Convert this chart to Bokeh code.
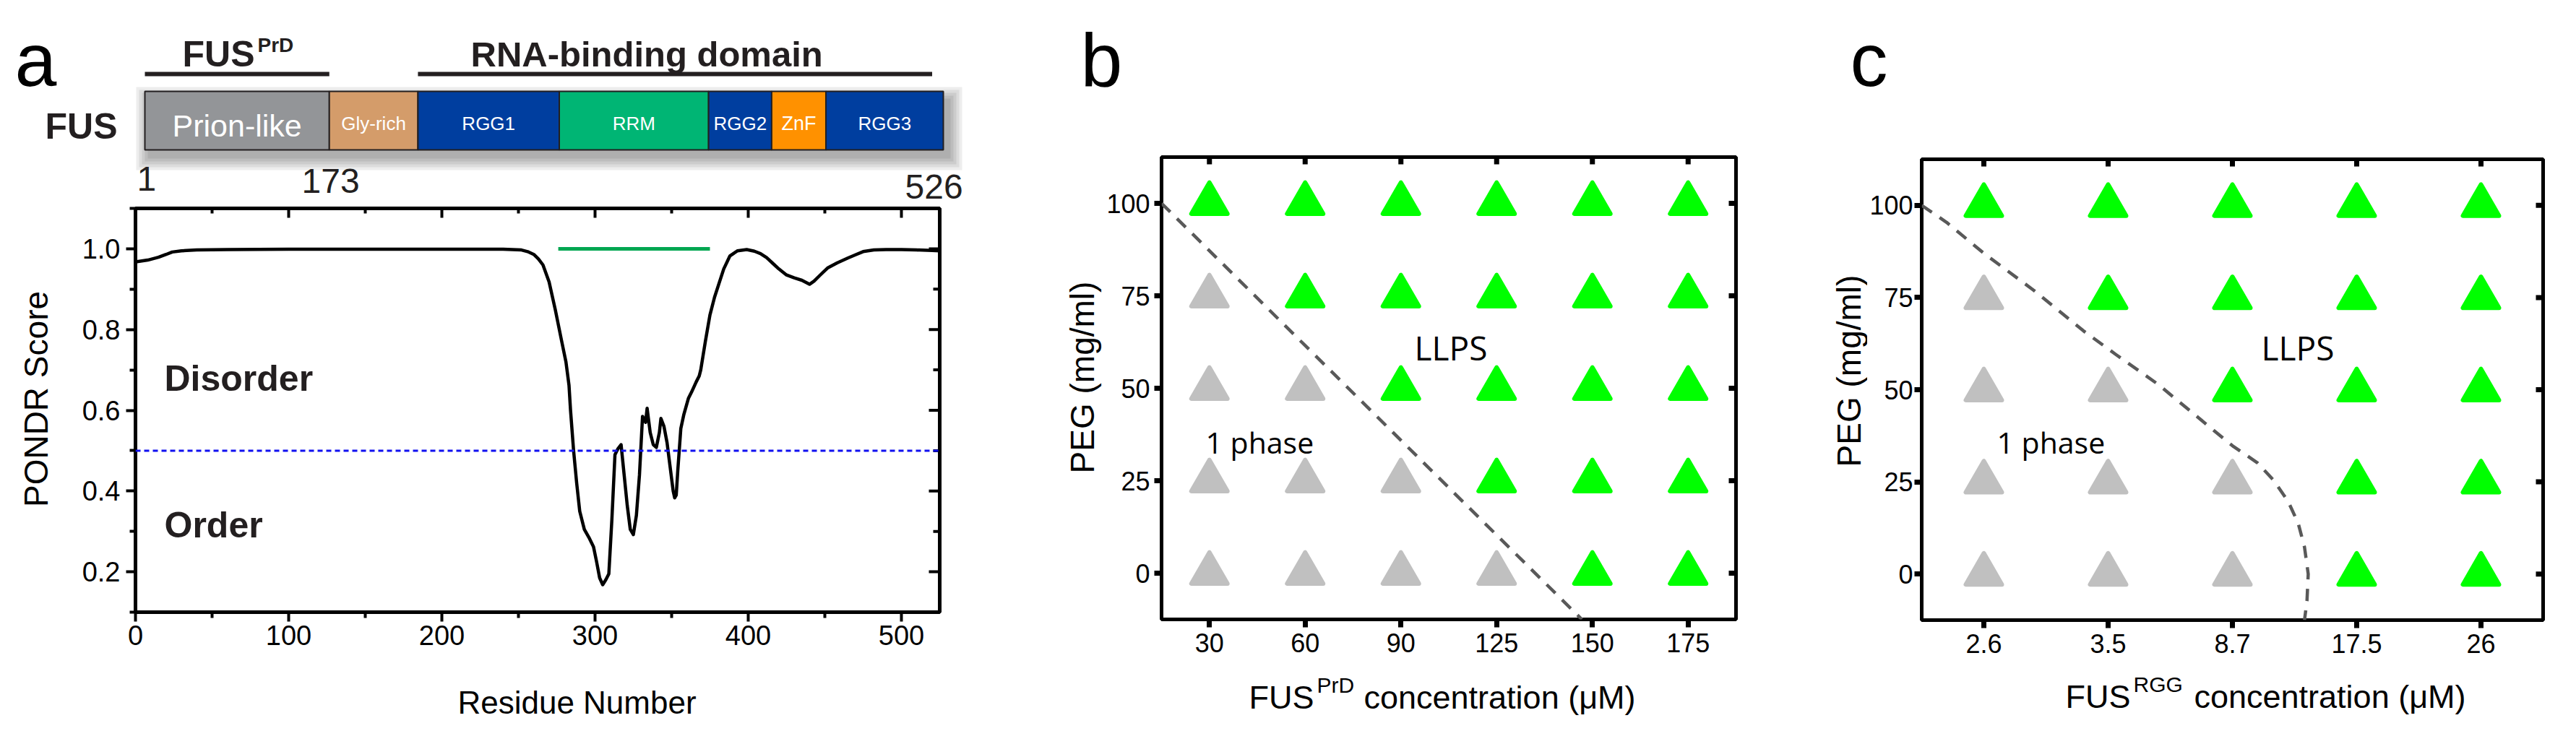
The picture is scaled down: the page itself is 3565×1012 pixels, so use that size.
from math import pi
from bokeh.plotting import figure
from bokeh.models import Range1d, FixedTicker, Label, ColumnDataSource, Span, NumeralTickFormatter
from bokeh.layouts import row, column
from bokeh.embed import file_html
from bokeh.resources import INLINE
from bokeh.core.properties import value

# ---------------- data ----------------
# panel a : FUS domain schematic (schematic units along the bar, 0..100)
domain_names = ["Prion-like", "Gly-rich", "RGG1", "RRM", "RGG2", "ZnF", "RGG3"]
domain_edges = [0.0, 23.1, 34.2, 51.9, 70.6, 78.5, 85.3, 100.0]
domain_colors = ["#939598", "#D49C6A", "#003E9F", "#00B574", "#003E9F", "#FF9100", "#003E9F"]
region_spans = [(0.0, 23.1), (34.2, 98.6)]
position_labels = [1, 173, 526]

# panel a : PONDR score
residue = [1, 8, 15, 20, 24, 30, 40, 60, 100, 150, 200, 240, 252, 256, 260, 263, 266, 270,
           274, 278, 281, 283, 284, 286, 288, 290, 293, 296, 299, 301, 303, 305, 307, 309,
           311, 313, 315, 317, 319, 321, 323, 325, 327, 329, 331, 333, 334, 336, 338, 340,
           342, 343, 345, 347, 349, 351, 352, 353, 354, 356, 358, 361, 363, 366, 368, 369,
           372, 375, 378, 381, 384, 388, 393, 399, 404, 408, 412, 416, 420, 425, 430, 435,
           440, 443, 447, 452, 458, 465, 470, 475, 482, 490, 500, 510, 520, 525]
pondr = [0.968, 0.972, 0.979, 0.986, 0.992, 0.995, 0.997, 0.998, 0.999, 0.999, 0.999, 0.999,
         0.997, 0.993, 0.986, 0.975, 0.960, 0.918, 0.850, 0.775, 0.720, 0.662, 0.600, 0.500,
         0.420, 0.350, 0.305, 0.285, 0.262, 0.225, 0.185, 0.168, 0.180, 0.195, 0.330, 0.490,
         0.505, 0.515, 0.440, 0.365, 0.305, 0.292, 0.340, 0.440, 0.585, 0.570, 0.605, 0.545,
         0.515, 0.508, 0.545, 0.580, 0.560, 0.520, 0.460, 0.400, 0.383, 0.390, 0.450, 0.555,
         0.590, 0.630, 0.645, 0.670, 0.685, 0.700, 0.770, 0.836, 0.880, 0.915, 0.950, 0.982,
         0.995, 0.998, 0.994, 0.988, 0.978, 0.964, 0.950, 0.935, 0.928, 0.922, 0.912, 0.920,
         0.935, 0.953, 0.965, 0.977, 0.985, 0.993, 0.997, 0.998, 0.998, 0.997, 0.996, 0.995]
threshold = 0.5
rrm_span = (276, 375)
rrm_level = 1.0

# panels b, c : phase diagrams (rows = PEG levels, 1 = LLPS, 0 = one phase)
peg_levels = [0, 25, 50, 75, 100]
fus_prd_conc = ["30", "60", "90", "125", "150", "175"]
phase_b = [
    [0, 0, 0, 0, 1, 1],
    [0, 0, 0, 1, 1, 1],
    [0, 0, 1, 1, 1, 1],
    [0, 1, 1, 1, 1, 1],
    [1, 1, 1, 1, 1, 1],
]
boundary_b_x = [0.5, 4.89]
boundary_b_y = [100.0, -12.5]

fus_rgg_conc = ["2.6", "3.5", "8.7", "17.5", "26"]
phase_c = [
    [0, 0, 0, 1, 1],
    [0, 0, 0, 1, 1],
    [0, 0, 1, 1, 1],
    [0, 1, 1, 1, 1],
    [1, 1, 1, 1, 1],
]
boundary_c_x = [0.5, 0.7, 1.0, 1.4, 1.8, 2.06, 2.4, 2.73, 3.0, 3.2, 3.33, 3.45, 3.53, 3.58, 3.61, 3.60, 3.58]
boundary_c_y = [100.0, 95.4, 87.0, 77.0, 66.0, 59.6, 51.5, 42.3, 34.8, 30.2, 25.5, 19.6, 13.7, 7.3, 0.0, -7.3, -12.5]

# ---------------- helpers ----------------
FONT = "Liberation Sans"
GREEN = "#00FF00"
GREY = "#C0C0C0"
INK = "#231F20"
K = 0.21  # baseline correction (fraction of font size)


def plabel(p, fx, fy, px, py, text, size, bold=False, font=FONT, align="left", angle=0.0, color="black"):
    """Place a text whose baseline should sit at page pixel (px, py)."""
    if angle:
        px = px - K * size
    else:
        py = py - K * size
    p.add_layout(Label(x=fx(px), y=fy(py), text=text, text_font=font, text_font_size=f"{size}px",
                       text_font_style="bold" if bold else "normal", text_align=align,
                       text_baseline="alphabetic", angle=angle, text_color=color))


def clean(p):
    p.grid.visible = False
    p.background_fill_color = "white"
    p.border_fill_color = "white"


def ident(v):
    return v


def neg(v):
    return -v


def tfig(w, h, x0, y0):
    """A blank strip used to hold texts; its coordinates are page pixels (y negated)."""
    f = figure(width=w, height=h, x_range=Range1d(x0, x0 + w), y_range=Range1d(-(y0 + h), -y0),
               toolbar_location=None, output_backend="svg", min_border=0, frame_align=False,
               x_axis_location=None, y_axis_location=None, outline_line_color=None,
               title_location=None)
    clean(f)
    return f


def put(f, px, py, text, size, **kw):
    plabel(f, ident, neg, px, py, text, size, **kw)


def inner_ticks(p, top_xs, top_y, top_len, right_x, right_ys, right_len, width):
    """Inward ticks on the top and right edges (lengths given in data units)."""
    if top_xs:
        p.segment(x0=top_xs, x1=top_xs, y0=top_y, y1=[top_y - l for l in top_len],
                  line_width=width, line_color="black")
    if right_ys:
        p.segment(x0=right_x, x1=[right_x - l for l in right_len], y0=right_ys, y1=right_ys,
                  line_width=width, line_color="black")


# ---------------- panel a : domain schematic ----------------
PX = 11.05  # screen px per schematic unit
X0 = -200 / PX
dom = figure(width=1420, height=284, x_range=Range1d(X0, X0 + 1420 / PX), y_range=Range1d(-292, -8),
             toolbar_location=None, output_backend="svg", min_border=0, frame_align=False,
             x_axis_location=None, y_axis_location=None, outline_line_color=None,
             title_location=None)
clean(dom)


def dx(px):
    return (px - 208) / PX


# drop shadow
for g in [16, 12, 8, 4, 0]:
    dom.quad(left=domain_edges[0] + (4 - g) / PX, right=domain_edges[-1] + (10 + g) / PX,
             top=-(144 - g), bottom=-(227 + g), fill_color="black", fill_alpha=0.07, line_color=None)

dom.quad(left=domain_edges[:-1], right=domain_edges[1:], top=-134, bottom=-215,
         fill_color=domain_colors, line_color=INK, line_width=2)

centers = [(a + b) / 2 for a, b in zip(domain_edges[:-1], domain_edges[1:])]
label_sizes = [43, 26, 26, 26, 26, 27, 26]
label_base = [191, 184, 184, 184, 184, 184, 184]
dsrc = ColumnDataSource(dict(x=centers, y=[-(b - K * s) for b, s in zip(label_base, label_sizes)],
                             text=domain_names, fs=[f"{s}px" for s in label_sizes]))
dom.text(x="x", y="y", text="text", source=dsrc, text_font=value(FONT), text_font_size="fs",
         text_color="white", text_align="center", text_baseline="alphabetic")

dom.segment(x0=[s for s, e in region_spans], x1=[e for s, e in region_spans], y0=-110, y1=-110,
            line_width=6, line_color=INK)

plabel(dom, dx, neg, 28, 112, "a", 104)
plabel(dom, dx, neg, 70, 193, "FUS", 50, bold=True, color=INK)
plabel(dom, dx, neg, 260, 93, "FUS", 50, bold=True, color=INK)
plabel(dom, dx, neg, 364, 76, "PrD", 28, bold=True, color=INK)
plabel(dom, dx, neg, 659, 93, "RNA-binding domain", 49, bold=True, color=INK)
for txt, px, py in zip(position_labels, [197, 425, 1260], [265, 268, 276]):
    plabel(dom, dx, neg, px, py, str(txt), 48, color=INK)

# ---------------- panel a : PONDR plot ----------------
pa = figure(width=1328, height=635, x_range=Range1d(0, 525), y_range=Range1d(0.1, 1.1),
            toolbar_location=None, output_backend="svg", frame_align=False,
            min_border_left=95, min_border_right=120, min_border_top=4, min_border_bottom=72)
clean(pa)
pa.outline_line_color = "black"
pa.outline_line_width = 5

pa.xaxis.ticker = FixedTicker(ticks=[0, 100, 200, 300, 400, 500], minor_ticks=[50, 150, 250, 350, 450])
pa.yaxis.ticker = FixedTicker(ticks=[0.2, 0.4, 0.6, 0.8, 1.0], minor_ticks=[0.1, 0.3, 0.5, 0.7, 0.9, 1.1])
pa.yaxis.formatter = NumeralTickFormatter(format="0.0")
for ax in (pa.xaxis[0], pa.yaxis[0]):
    ax.axis_line_color = None
    ax.major_tick_out = 13
    ax.major_tick_in = 0
    ax.minor_tick_out = 8
    ax.minor_tick_in = 0
    ax.major_tick_line_width = 4
    ax.minor_tick_line_width = 4
    ax.major_tick_line_color = "black"
    ax.minor_tick_line_color = "black"
    ax.major_label_text_font = FONT
    ax.major_label_text_font_size = "38px"
    ax.major_label_text_color = "black"
pa.xaxis.major_label_standoff = 5
pa.yaxis.major_label_standoff = 8

A_XPX = 1113 / 525   # screen px per residue
A_YPX = 559 / 1.0    # screen px per score unit
top_major = [100, 200, 300, 400, 500]
top_minor = [50, 150, 250, 350, 450]
right_major = [0.2, 0.4, 0.6, 0.8, 1.0]
right_minor = [0.3, 0.5, 0.7, 0.9]
inner_ticks(pa, top_major + top_minor, 1.1, [13 / A_YPX] * 5 + [7 / A_YPX] * 5,
            525, right_major + right_minor, [15 / A_XPX] * 5 + [9 / A_XPX] * 4, 4)

pa.add_layout(Span(location=threshold, dimension="width", line_color="#1010F0", line_width=3, line_dash="7 5"))
pa.segment(x0=rrm_span[0], x1=rrm_span[1], y0=rrm_level, y1=rrm_level, line_width=5, line_color="#00A651")
pa.line(residue, pondr, line_width=4.5, line_color="black", line_join="round")


def ax_(px):
    return (px - 195) / A_XPX


def ay_(py):
    return 1.0 - (py - 352) / A_YPX


plabel(pa, ax_, ay_, 235, 542, "Disorder", 50, bold=True, color=INK)
plabel(pa, ax_, ay_, 235, 745, "Order", 50, bold=True, color=INK)

ya = tfig(92, 635, 8, 292)
put(ya, 67, 560, "PONDR Score", 46, align="center", angle=pi / 2)
xa = tfig(1420, 77, 8, 927)
put(xa, 806, 989, "Residue Number", 44, align="center")

panel_a = column(dom, row(ya, pa), xa)


# ---------------- panels b, c ----------------
def phase_panel(width, mbl, mbt, mbb, cats, phase, bx, by, ystand, xstand, xpx, ypx):
    n = len(cats)
    p = figure(width=width, height=719, x_range=Range1d(0.5, n + 0.5), y_range=Range1d(-12.5, 112.5),
               toolbar_location=None, output_backend="svg", frame_align=False,
               min_border_left=mbl, min_border_right=30, min_border_top=mbt, min_border_bottom=mbb)
    clean(p)
    p.outline_line_color = "black"
    p.outline_line_width = 5
    p.xaxis.ticker = FixedTicker(ticks=list(range(1, n + 1)))
    p.xaxis.major_label_overrides = {i + 1: c for i, c in enumerate(cats)}
    p.yaxis.ticker = FixedTicker(ticks=peg_levels)
    for ax in (p.xaxis[0], p.yaxis[0]):
        ax.axis_line_color = None
        ax.major_tick_in = 0
        ax.minor_tick_line_color = None
        ax.major_tick_line_width = 7
        ax.major_tick_line_color = "black"
        ax.major_label_text_font = FONT
        ax.major_label_text_font_size = "36px"
        ax.major_label_text_color = "black"
    p.yaxis.major_tick_out = 10
    p.xaxis.major_tick_out = 11
    p.yaxis.major_label_standoff = ystand
    p.xaxis.major_label_standoff = xstand
    inner_ticks(p, list(range(1, n + 1)), 112.5, [10 / ypx] * n,
                n + 0.5, peg_levels, [10 / xpx] * len(peg_levels), 7)
    xs, ys, cols = [], [], []
    for j, peg in enumerate(peg_levels):
        for i in range(n):
            xs.append(i + 1)
            ys.append(peg)
            cols.append(GREEN if phase[j][i] else GREY)
    p.line(bx, by, line_dash="17 13", line_width=4.5, line_color="#595959")
    p.scatter(xs, ys, marker="triangle", size=50, fill_color=cols, line_color=cols,
              line_width=6, line_join="round")
    return p


# panel b  (page: frame x 1615..2410, y 225..865)
pb = phase_panel(907, 82, 17, 62, fus_prd_conc, phase_b, boundary_b_x, boundary_b_y, 6, 8, 132.5, 5.12)


def bx_(px):
    return 0.5 + (px - 1615) / 132.5


def by_(py):
    return 112.5 - (py - 225) / 5.12


plabel(pb, bx_, by_, 1965, 498, "LLPS", 46, font="Open Sans")
plabel(pb, bx_, by_, 1676, 628, "1 phase", 41, font="Open Sans")

tb = tfig(1012, 200, 1428, 8)
put(tb, 1503, 112, "b", 104)
yb = tfig(105, 719, 1428, 208)
put(yb, 1515, 530, "PEG (mg/ml)", 46, align="center", angle=pi / 2)
xb = tfig(1012, 77, 1428, 927)
put(xb, 1736, 982, "FUS", 45)
put(xb, 1830, 962, "PrD", 30)
put(xb, 1895, 982, "concentration (\u03bcM)", 45)

panel_b = column(tb, row(yb, pb), xb)

# panel c  (page: frame x 2667..3527, y 228..866)
pc = phase_panel(965, 75, 20, 61, fus_rgg_conc, phase_c, boundary_c_x, boundary_c_y, 2, 8, 172.0, 5.104)


def cx_(px):
    return 0.5 + (px - 2667) / 172.0


def cy_(py):
    return 112.5 - (py - 228) / 5.104


plabel(pc, cx_, cy_, 3137, 498, "LLPS", 46, font="Open Sans")
plabel(pc, cx_, cy_, 2771, 628, "1 phase", 41, font="Open Sans")

tc = tfig(1117, 200, 2440, 8)
put(tc, 2568, 112, "c", 104)
yc = tfig(152, 719, 2440, 208)
put(yc, 2576, 521, "PEG (mg/ml)", 46, align="center", angle=pi / 2)
xc = tfig(1117, 77, 2440, 927)
put(xc, 2866, 981, "FUS", 45)
put(xc, 2960, 961, "RGG", 30)
put(xc, 3044, 981, "concentration (\u03bcM)", 45)

panel_c = column(tc, row(yc, pc), xc)

layout = row(panel_a, panel_b, panel_c)
open("out.html", "w").write(file_html(layout, INLINE))
